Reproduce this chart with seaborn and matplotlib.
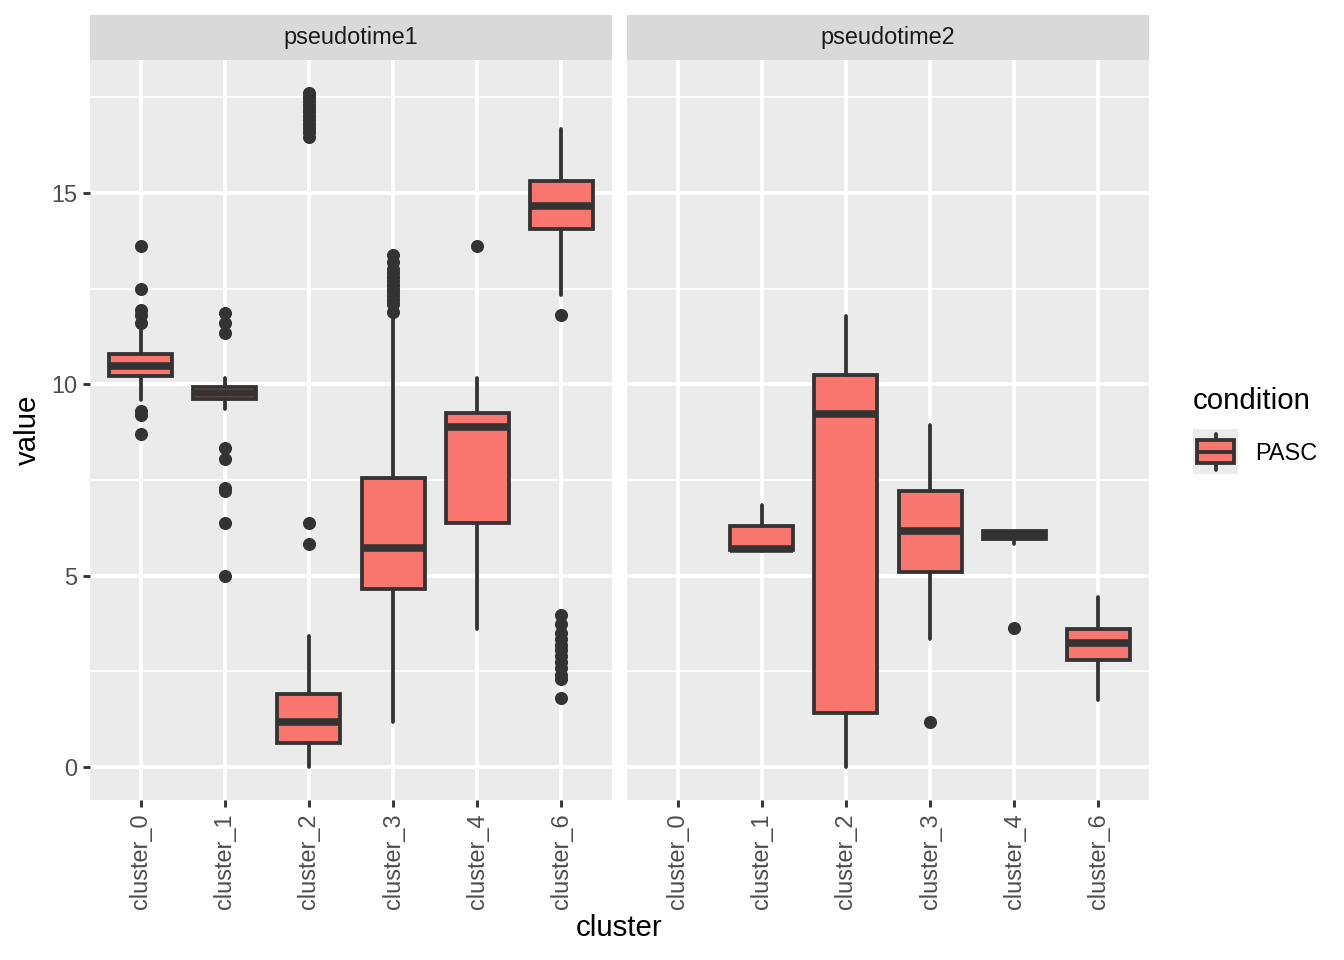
import numpy as np
import matplotlib
matplotlib.use("Agg")
import matplotlib.pyplot as plt
import seaborn as sns

# ---- data ----
clusters = ["cluster_0", "cluster_1", "cluster_2", "cluster_3", "cluster_4", "cluster_6"]
panels = ["pseudotime1", "pseudotime2"]
condition = "PASC"

# pseudotime1
pt1_q1 = [10.22, 9.61, 0.62, 4.64, 6.37, 14.06]
pt1_med = [10.48, 9.76, 1.18, 5.71, 8.89, 14.66]
pt1_q3 = [10.79, 9.93, 1.91, 7.54, 9.26, 15.31]
pt1_whislo = [9.59, 9.35, 0.00, 1.18, 3.60, 12.33]
pt1_whishi = [11.44, 10.17, 3.42, 11.85, 10.16, 16.66]
pt1_fliers = [
    [13.6, 12.5, 11.95, 11.8, 11.6, 9.3, 9.2, 8.7],
    [11.85, 11.6, 11.33, 8.33, 8.04, 7.28, 7.2, 6.37, 5.0],
    [17.6, 17.5, 17.4, 17.3, 17.2, 17.1, 17.0, 16.9, 16.8, 16.7, 16.6, 16.45, 6.37, 5.82],
    [13.38, 13.2, 13.0, 12.9, 12.8, 12.7, 12.6, 12.5, 12.4, 12.3, 12.2, 12.1, 11.9],
    [13.6],
    [11.81, 3.97, 3.75, 3.5, 3.35, 3.2, 3.05, 2.9, 2.75, 2.6, 2.4, 2.3, 1.81],
]

# pseudotime2 (cluster_0 has no data)
pt2_q1 = [None, 5.67, 1.42, 5.10, 5.96, 2.80]
pt2_med = [None, 5.70, 9.21, 6.17, 6.05, 3.23]
pt2_q3 = [None, 6.30, 10.25, 7.21, 6.17, 3.60]
pt2_whislo = [None, 5.64, 0.00, 3.34, 5.82, 1.75]
pt2_whishi = [None, 6.85, 11.79, 8.94, 6.17, 4.43]
pt2_fliers = [[], [], [], [1.17], [3.64], []]

y_ticks = [0, 5, 10, 15]
y_minor = [2.5, 7.5, 12.5, 17.5]

# ---- style ----
FILL = "#F8766D"
DARK = "#333333"
sns.set_theme(style="darkgrid", rc={
    "axes.facecolor": "#EBEBEB",
    "grid.color": "white",
    "axes.edgecolor": "none",
})
plt.rcParams["font.family"] = ["Liberation Sans", "DejaVu Sans"]

W, H = 1344, 960
fig = plt.figure(figsize=(7, 5), dpi=192)

def fx(px):
    return px / W

def fy(py):
    return 1 - py / H

panel_x = [(90, 612), (627, 1149)]
top_px, bot_px = 60, 800
strip_top = 15

data = [
    (pt1_q1, pt1_med, pt1_q3, pt1_whislo, pt1_whishi, pt1_fliers),
    (pt2_q1, pt2_med, pt2_q3, pt2_whislo, pt2_whishi, pt2_fliers),
]

LW = 1.42
for i, (name, (x0, x1), d) in enumerate(zip(panels, panel_x, data)):
    ax = fig.add_axes([fx(x0), fy(bot_px), fx(x1) - fx(x0), fy(top_px) - fy(bot_px)])
    q1, med, q3, lo, hi, fl = d
    stats, pos = [], []
    for j in range(len(clusters)):
        if q1[j] is None:
            continue
        stats.append(dict(q1=q1[j], med=med[j], q3=q3[j], whislo=lo[j], whishi=hi[j],
                          fliers=np.array(fl[j]), label=clusters[j]))
        pos.append(j)
    ax.bxp(stats, positions=pos, widths=0.75, patch_artist=True, showcaps=False,
           boxprops=dict(facecolor=FILL, edgecolor=DARK, linewidth=LW),
           medianprops=dict(color=DARK, linewidth=2 * LW, solid_capstyle="butt"),
           whiskerprops=dict(color=DARK, linewidth=LW),
           flierprops=dict(marker="o", markerfacecolor=DARK, markeredgecolor=DARK,
                           markersize=4.4, markeredgewidth=0.5),
           manage_ticks=False, zorder=3)
    ax.set_xlim(-0.6, len(clusters) - 0.4)
    ax.set_ylim(-0.86, 18.47)
    ax.set_xticks(range(len(clusters)))
    ax.set_xticklabels(clusters, rotation=90, fontsize=8.8, color="#4D4D4D")
    ax.set_yticks(y_ticks)
    ax.set_yticks(y_minor, minor=True)
    ax.grid(which="major", color="white", linewidth=1.42)
    ax.grid(which="minor", axis="y", color="white", linewidth=0.71)
    ax.set_axisbelow(True)
    ax.tick_params(axis="both", which="major", length=2.75, width=1.07, color=DARK,
                   pad=2.2, labelsize=8.8, labelcolor="#4D4D4D",
                   bottom=True, left=(i == 0))
    ax.tick_params(axis="both", which="minor", length=0)
    if i == 0:
        ax.set_yticklabels([str(t) for t in y_ticks])
    else:
        ax.set_yticklabels([])
    for s in ax.spines.values():
        s.set_visible(False)
    ax.set_xlabel("")
    ax.set_ylabel("")
    # strip
    sax = fig.add_axes([fx(x0), fy(top_px), fx(x1) - fx(x0), fy(strip_top) - fy(top_px)])
    sax.set_facecolor("#D9D9D9")
    sax.set_xticks([])
    sax.set_yticks([])
    sax.grid(False)
    for s in sax.spines.values():
        s.set_visible(False)
    sax.text(0.5, 0.5, name, ha="center", va="center", fontsize=8.8, color="#1A1A1A",
             transform=sax.transAxes)

# axis titles
fig.text(fx(28), fy(430), "value", rotation=90, ha="center", va="center", fontsize=11, color="black")
fig.text(fx(619.5), fy(928), "cluster", ha="center", va="center", fontsize=11, color="black")

# legend
fig.text(fx(1193), fy(401), "condition", ha="left", va="center", fontsize=11, color="black")
kax = fig.add_axes([fx(1193), fy(474), fx(1238) - fx(1193), fy(429) - fy(474)])
kax.set_facecolor("#EBEBEB")
kax.grid(False)
kax.bxp([dict(q1=0.25, med=0.5, q3=0.76, whislo=0.09, whishi=0.9, fliers=np.array([]))],
        positions=[0.5], widths=0.84, patch_artist=True, showcaps=False, showfliers=False,
        boxprops=dict(facecolor=FILL, edgecolor=DARK, linewidth=LW),
        medianprops=dict(color=DARK, linewidth=LW),
        whiskerprops=dict(color=DARK, linewidth=LW), manage_ticks=False)
kax.set_xlim(0, 1)
kax.set_ylim(0, 1)
kax.set_xticks([])
kax.set_yticks([])
for s in kax.spines.values():
    s.set_visible(False)
fig.text(fx(1255), fy(453), condition, ha="left", va="center", fontsize=8.8, color="black")

fig.savefig("out.png", dpi=192)
